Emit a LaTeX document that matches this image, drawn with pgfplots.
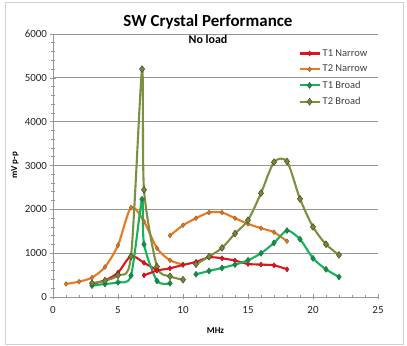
\documentclass[border=0pt]{standalone}
\usepackage{pgfplots}
\pgfplotsset{compat=1.18}
\usepackage{fontspec}
\setmainfont{Carlito}
\definecolor{cRed}{RGB}{222,22,32}
\definecolor{cRedM}{RGB}{180,10,20}
\definecolor{cOr}{RGB}{232,122,34}
\definecolor{cOrM}{RGB}{150,85,35}
\definecolor{cGr}{RGB}{22,178,92}
\definecolor{cGrM}{RGB}{25,120,65}
\definecolor{cOl}{RGB}{122,146,62}
\definecolor{cOlM}{RGB}{70,75,35}
\definecolor{cOlF}{RGB}{120,135,60}
\definecolor{cGrid}{RGB}{150,150,150}
\begin{document}
\begin{tikzpicture}[x=1bp,y=1bp]
\path[use as bounding box] (0,0) rectangle (407,346);
\draw[gray!35,line width=1bp] (5,2) rectangle (403,343);
\begin{axis}[
  at={(53bp,49bp)}, anchor=south west,
  scale only axis, width=325bp, height=263bp,
  xmin=0, xmax=25, ymin=0, ymax=6000,
  xtick={0,5,...,25}, ytick={0,1000,...,6000},
  minor x tick num=4, minor y tick num=4,
  axis x line*=bottom, axis y line*=left,
  axis line style={cGrid, line width=0.8bp},
  tick style={cGrid, line width=0.6bp},
  major tick length=5bp, minor tick length=3bp,
  tick align=center,
  ymajorgrids, major grid style={cGrid, line width=0.8bp},
  every axis plot/.append style={line width=2.1bp, smooth, tension=0.45},
  /pgf/number format/assume math mode=true,
  scaled y ticks=false,
  /pgf/number format/.cd, 1000 sep={}, /pgfplots/.cd,
  tick label style={font=\fontsize{11}{12}\selectfont, text=black!85},
  xticklabel style={yshift=-3bp},
  xlabel={\textbf{MHz}}, ylabel={\textbf{mV p-p}},
  label style={font=\fontsize{9}{10}\selectfont},
  xlabel style={at={(axis description cs:0.5,-0.129)}, anchor=center},
  ylabel style={at={(axis description cs:-0.117,0.5)}, anchor=center},
  legend style={draw=none, fill=none, at={(rel axis cs:0.755,0.95)}, anchor=north west,
    font=\fontsize{10.5}{11}\selectfont, text=black!75, row sep=3.6bp, inner sep=0pt,
    /tikz/every even column/.append style={column sep=1bp}},
  legend cell align=left,
  legend image code/.code={\draw[#1,mark repeat=2,mark phase=2] plot coordinates {(0bp,0bp) (10bp,0bp) (20bp,0bp)};},
  clip=false,
]
% T1 Narrow
\addplot[cRed, mark=diamond*, mark size=2.6bp, mark options={draw=cRedM, fill=cRed, line width=0.4bp}] coordinates {
(3,300) (4,380) (5,556) (6,935) (7,780) (8,610)};
\addlegendentry{T1 Narrow}
% T2 Narrow
\addplot[cOr, mark=diamond*, mark size=2.4bp, mark options={draw=cOrM, fill=cOr!70!brown, line width=0.4bp}] coordinates {
(1,297) (2,350) (3,442) (4,685) (5,1180) (6,2041) (7,1721) (8,1112) (9,838) (10,740)};
\addlegendentry{T2 Narrow}
% T1 Broad
\addplot[cGr, mark=diamond*, mark size=3bp, mark options={draw=cGrM, fill=cGr!80!black, line width=0.5bp}] coordinates {
(3,259) (4,297) (5,335) (6,490) (6.85,2230) (7,1203) (8,366) (9,312)};
\addlegendentry{T1 Broad}
% T2 Broad
\addplot[cOl, mark=diamond*, mark size=3.4bp, mark options={draw=cOlM, fill=cOlF, line width=0.5bp}] coordinates {
(3,315) (4,373) (5,495) (6,925) (6.85,5200) (7,2445) (8,693) (9,472) (10,395)};
\addlegendentry{T2 Broad}
% second segments
\addplot[cRed, mark=diamond*, mark size=2.6bp, mark options={draw=cRedM, fill=cRed, line width=0.4bp}, forget plot] coordinates {
(7,495) (8,602) (9,655) (10,731) (11,800) (12,906) (13,883) (14,830) (15,754) (16,739) (17,723) (18,632)};
\addplot[cOr, mark=diamond*, mark size=2.4bp, mark options={draw=cOrM, fill=cOr!70!brown, line width=0.4bp}, forget plot] coordinates {
(9,1401) (10,1637) (11,1797) (12,1927) (13,1927) (14,1797) (15,1668) (16,1569) (17,1477) (18,1272)};
\addplot[cGr, mark=diamond*, mark size=3bp, mark options={draw=cGrM, fill=cGr!80!black, line width=0.5bp}, forget plot] coordinates {
(11,518) (12,594) (13,663) (14,739) (15,838) (16,998) (17,1234) (18,1516) (19,1318) (20,883) (21,632) (22,457)};
\addplot[cOl, mark=diamond*, mark size=3.4bp, mark options={draw=cOlM, fill=cOlF, line width=0.5bp}, forget plot] coordinates {
(11,746) (12,922) (13,1120) (14,1447) (15,1752) (16,2369) (17,3077) (18,3092) (19,2239) (20,1599) (21,1203) (22,960)};
\end{axis}
\node[font=\bfseries\fontsize{17}{19}\selectfont] at (208,324) {SW Crystal Performance};
\node[font=\bfseries\fontsize{12}{14}\selectfont] at (208,307) {No load};
\end{tikzpicture}
\end{document}
